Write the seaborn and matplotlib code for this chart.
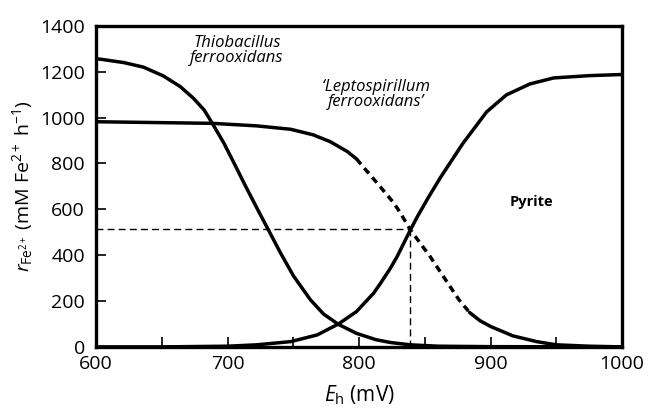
import matplotlib
matplotlib.use("Agg")
import matplotlib.pyplot as plt
import seaborn as sns
import pandas as pd

# --- data ---
thio_x = [600, 603, 621, 636, 651, 664, 674, 682, 688, 697, 705, 713, 722, 731, 740, 750, 763, 773, 784, 798, 813, 824, 839, 860, 900, 1000]
thio_y = [1256, 1255, 1240, 1220, 1182, 1135, 1084, 1034, 978, 890, 800, 708, 608, 510, 412, 310, 205, 143, 99, 59, 31, 19, 9, 3, 1, 0]

lepto_x = [600, 650, 688, 722, 748, 765, 778, 791, 798, 803, 816, 826, 831, 839, 854, 867, 876, 884, 892, 900, 917, 935, 950, 975, 1000]
lepto_y = [982, 978, 975, 964, 949, 925, 895, 852, 820, 786, 699, 630, 588, 510, 394, 282, 205, 150, 114, 89, 48, 23, 9, 3, 0]
lepto_dash_start = 798
lepto_dash_end = 884

pyr_x = [600, 650, 700, 722, 748, 768, 784, 798, 811, 816, 824, 829, 839, 844, 853, 862, 879, 897, 912, 930, 948, 975, 1000]
pyr_y = [0, 0, 3, 9, 23, 52, 99, 154, 234, 275, 345, 395, 510, 565, 655, 740, 888, 1025, 1099, 1147, 1173, 1183, 1188]

cross_x = 839
cross_y = 514

x_ticks = [600, 700, 800, 900, 1000]
x_minor = [650, 750, 850, 950]
y_ticks = [0, 200, 400, 600, 800, 1000, 1200, 1400]

sns.set_theme(style="ticks")
plt.rcParams['font.family'] = ['Open Sans', 'DejaVu Sans']
plt.rcParams['mathtext.fontset'] = 'custom'
plt.rcParams['mathtext.rm'] = 'Open Sans'
plt.rcParams['mathtext.it'] = 'Open Sans:italic'
plt.rcParams['text.color'] = 'black'
plt.rcParams['axes.labelcolor'] = 'black'

fig, ax = plt.subplots(figsize=(6.5, 4.11), dpi=100)
fig.subplots_adjust(left=0.148, right=0.957, top=0.937, bottom=0.156)

lw = 2.5
sns.lineplot(x=thio_x, y=thio_y, ax=ax, color="black", linewidth=lw)
sns.lineplot(x=pyr_x, y=pyr_y, ax=ax, color="black", linewidth=lw)

lx = pd.Series(lepto_x)
ly = pd.Series(lepto_y)
m1 = lx <= lepto_dash_start
m2 = (lx >= lepto_dash_start) & (lx <= lepto_dash_end)
m3 = lx >= lepto_dash_end
sns.lineplot(x=lx[m1], y=ly[m1], ax=ax, color="black", linewidth=lw)
sns.lineplot(x=lx[m2], y=ly[m2], ax=ax, color="black", linewidth=lw, linestyle=(0, (2.0, 1.5)))
sns.lineplot(x=lx[m3], y=ly[m3], ax=ax, color="black", linewidth=lw)

ax.plot([600, cross_x], [cross_y, cross_y], color="black", linewidth=1.0, linestyle=(0, (5, 3)))
ax.plot([cross_x, cross_x], [0, cross_y], color="black", linewidth=1.0, linestyle=(0, (5, 3)))

ax.set_xlim(600, 1000)
ax.set_ylim(0, 1400)
ax.set_xticks(x_ticks)
ax.set_xticks(x_minor, minor=True)
ax.set_yticks(y_ticks)
ax.tick_params(axis='both', which='both', direction='in', length=7, width=1.2, labelsize=14, pad=6, colors='black')
ax.tick_params(axis='y', which='major', pad=8)
for s in ax.spines.values():
    s.set_linewidth(2.4)
    s.set_color("black")

ax.set_xlabel(r"$E_{\mathrm{h}}$ (mV)", fontsize=15, labelpad=7)
ax.set_ylabel(r"$r_{\mathrm{Fe}^{2+}}$ (mM Fe$^{2+}$ h$^{-1}$)", fontsize=14, labelpad=4)

ax.text(707, 1293, "Thiobacillus\nferrooxidans", style="italic", fontsize=12,
        ha="center", va="center", linespacing=0.95)
ax.text(813, 1100, "\u2018Leptospirillum\nferrooxidans\u2019", style="italic", fontsize=12,
        ha="center", va="center", linespacing=0.95)
ax.text(931, 632, "Pyrite", fontweight="bold", fontsize=10.5, ha="center", va="center")

fig.savefig("out.png", dpi=100)
